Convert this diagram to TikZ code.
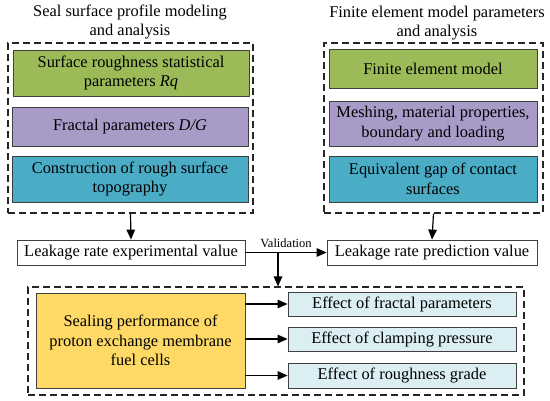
\documentclass[tikz,border=0pt]{standalone}
\usepackage{fontspec}
\setmainfont{Liberation Serif}
\usepackage{tikz}
\usetikzlibrary{arrows.meta}
\definecolor{mygreen}{HTML}{9BBB59}
\definecolor{mypurple}{HTML}{A99BC8}
\definecolor{myteal}{HTML}{4BACC6}
\definecolor{myyellow}{HTML}{FFD966}
\definecolor{mylightblue}{HTML}{DAEEF3}
\definecolor{myedge}{HTML}{404040}

\tikzset{
  basebox/.style={draw=myedge, line width=0.8pt, align=center, inner sep=1pt,
    font=\rmfamily\fontsize{16.4}{19.5}\selectfont},
  greenbox/.style={basebox, fill=mygreen},
  purplebox/.style={basebox, fill=mypurple},
  tealbox/.style={basebox, fill=myteal},
  valuebox/.style={basebox, fill=white},
  yellowbox/.style={basebox, fill=myyellow},
  effectbox/.style={basebox, fill=mylightblue},
  groupbox/.style={draw=black!85, line width=1.1pt, dash pattern=on 7pt off 4pt},
  flow/.style={line width=1.2pt, -{Triangle[length=10pt,width=8.5pt]}},
  titletext/.style={align=center, font=\rmfamily\fontsize{16.4}{19.5}\selectfont}
}

\begin{document}
\begin{tikzpicture}[x=1pt, y=-1pt]
    \useasboundingbox (0,0) rectangle (550,400);

    % left column
    \node[titletext] (lefttitle) at (130,22)
      {Seal surface profile modeling\\and analysis};
    \node[groupbox, minimum width=245pt, minimum height=170pt] (leftgrp) at (130.5,128) {};
    \node[greenbox, minimum width=236pt, minimum height=46pt] (rough) at (131,73)
      {Surface roughness statistical\\parameters \textit{Rq}};
    \node[purplebox, minimum width=236pt, minimum height=39pt] (fractal) at (130,126.5)
      {Fractal parameters \textit{D/G}};
    \node[tealbox, minimum width=236pt, minimum height=46pt] (topo) at (130,179)
      {Construction of rough surface\\topography};

    % right column
    \node[titletext] (righttitle) at (437,23)
      {Finite element model parameters\\and analysis};
    \node[groupbox, minimum width=219pt, minimum height=170pt] (rightgrp) at (433.5,128) {};
    \node[greenbox, minimum width=208pt, minimum height=39pt] (femodel) at (433,68.5)
      {Finite element model};
    \node[purplebox, minimum width=208pt, minimum height=45pt] (mesh) at (433,123.5)
      {Meshing, material properties,\\boundary and loading};
    \node[tealbox, minimum width=208pt, minimum height=46pt] (gap) at (433,179)
      {Equivalent gap of contact\\surfaces};

    % leakage values
    \node[valuebox, minimum width=228pt, minimum height=25pt] (expval) at (131,252.5)
      {Leakage rate experimental value};
    \node[valuebox, minimum width=210pt, minimum height=25pt] (predval) at (432,252.5)
      {Leakage rate prediction value};
    \draw[flow] (leftgrp.south) -- (expval.north);
    \draw[flow] (rightgrp.south) -- (predval.north);
    \draw[flow] (expval) -- node[above=1pt, font=\rmfamily\fontsize{12.5}{14}\selectfont] {Validation} (predval);
    \coordinate (split) at (278,252.5);

    % sealing performance
    \node[groupbox, minimum width=496pt, minimum height=108pt] (botgrp) at (276,341) {};
    \draw[flow] (split) -- (split |- botgrp.north);
    \node[yellowbox, minimum width=209pt, minimum height=95pt] (sealing) at (140.5,340.5)
      {Sealing performance of\\proton exchange membrane\\fuel cells};
    \node[effectbox, minimum width=228pt, minimum height=24pt] (efffrac) at (402,304)
      {Effect of fractal parameters};
    \node[effectbox, minimum width=228pt, minimum height=24pt] (effclamp) at (402,339)
      {Effect of clamping pressure};
    \node[effectbox, minimum width=228pt, minimum height=25pt] (effgrade) at (402,375.5)
      {Effect of roughness grade};
    \foreach \eff in {efffrac, effclamp, effgrade} {
      \draw[flow] (sealing.east |- \eff.west) -- (\eff.west);
    }
\end{tikzpicture}
\end{document}
